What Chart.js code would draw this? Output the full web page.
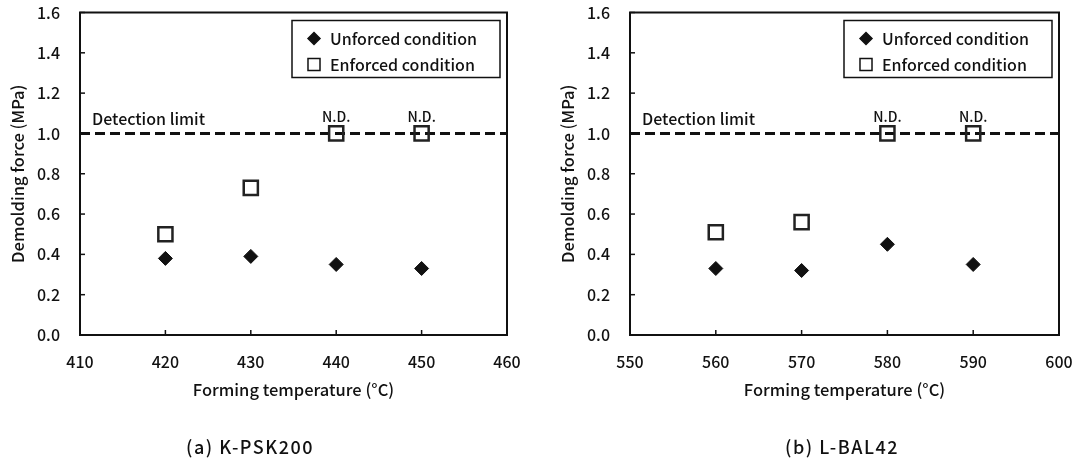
<!DOCTYPE html>
<html>
<head>
<meta charset="utf-8">
<script src="https://cdn.jsdelivr.net/npm/chart.js@4"></script>
<style>
  body { margin: 0; background: #fff; }
  #wrap { position: relative; width: 1078px; height: 465px; }
  #chartA { position: absolute; left: 0; top: 0; }
  #chartB { position: absolute; left: 550px; top: 0; }
</style>
</head>
<body>
<div id="wrap">
  <canvas id="chartA" width="540" height="465"></canvas>
  <canvas id="chartB" width="528" height="465"></canvas>
</div>
<script>
// (a) K-PSK200
const tempsA = [420, 430, 440, 450];
const unforcedA = [0.38, 0.39, 0.35, 0.33];
const enforcedA = [0.50, 0.73, 1.0, 1.0];
const notDetectedA = [false, false, true, true];
const xRangeA = [410, 460];

// (b) L-BAL42
const tempsB = [560, 570, 580, 590];
const unforcedB = [0.33, 0.32, 0.45, 0.35];
const enforcedB = [0.51, 0.56, 1.0, 1.0];
const notDetectedB = [false, false, true, true];
const xRangeB = [550, 600];

const yRange = [0, 1.6];
const yStep = 0.2;
const xStep = 10;
const detectionLimit = 1.0;

const legendLabels = ['Unforced condition', 'Enforced condition'];
const FONT = '"Noto Sans CJK JP", "Noto Sans", sans-serif';
const INK = '#111';

Chart.defaults.font.family = FONT;
Chart.defaults.font.weight = '500';
Chart.defaults.color = INK;

// frame, inside ticks, labels, legend box and caption
const decorPlugin = {
    id: 'decor',
    afterDatasetsDraw(chart, args, opts) {
        const ctx = chart.ctx;
        const a = chart.chartArea;
        const xs = chart.scales.x;
        const ys = chart.scales.y;
        ctx.save();

        // inside tick marks
        ctx.strokeStyle = INK;
        ctx.lineWidth = 1.5;
        ys.ticks.forEach((t) => {
            const y = ys.getPixelForValue(t.value);
            ctx.beginPath();
            ctx.moveTo(a.left, y);
            ctx.lineTo(a.left + 5, y);
            ctx.stroke();
        });
        xs.ticks.forEach((t) => {
            const x = xs.getPixelForValue(t.value);
            ctx.beginPath();
            ctx.moveTo(x, a.bottom);
            ctx.lineTo(x, a.bottom - 5);
            ctx.stroke();
        });

        // plot frame
        ctx.lineWidth = 2;
        ctx.strokeRect(a.left, a.top, a.right - a.left, a.bottom - a.top);

        // detection limit label
        ctx.fillStyle = INK;
        ctx.font = '500 16px ' + FONT;
        ctx.textBaseline = 'middle';
        ctx.textAlign = 'left';
        ctx.fillText('Detection limit', a.left + 12, ys.getPixelForValue(detectionLimit) - 15);

        // N.D. marks
        const meta = chart.getDatasetMeta(1);
        ctx.font = '500 14px ' + FONT;
        ctx.textAlign = 'center';
        opts.nd.forEach((flag, i) => {
            if (!flag) return;
            const p = meta.data[i];
            ctx.fillText('N.D.', p.x, p.y - 17);
        });

        // legend box
        const bw = 208, bh = 57;
        const bx = a.right - 7 - bw;
        const by = a.top + 8;
        ctx.fillStyle = '#fff';
        ctx.fillRect(bx, by, bw, bh);
        ctx.lineWidth = 1.5;
        ctx.strokeStyle = INK;
        ctx.strokeRect(bx, by, bw, bh);
        const rows = [by + 18, by + 44];
        ctx.fillStyle = INK;
        Chart.helpers.drawPoint(ctx, {pointStyle: 'rectRot', radius: 6, borderWidth: 1}, bx + 22, rows[0]);
        ctx.fillStyle = '#fff';
        ctx.lineWidth = 1.5;
        Chart.helpers.drawPoint(ctx, {pointStyle: 'rect', radius: 8.5, borderWidth: 1.5}, bx + 22, rows[1]);
        ctx.fillStyle = INK;
        ctx.font = '500 16px ' + FONT;
        ctx.textAlign = 'left';
        ctx.fillText(legendLabels[0], bx + 38, rows[0]);
        ctx.fillText(legendLabels[1], bx + 38, rows[1]);

        // caption
        ctx.font = '500 18px ' + FONT;
        ctx.letterSpacing = '1.5px';
        ctx.textAlign = 'center';
        ctx.fillText(opts.caption, opts.captionX, 447);
        ctx.restore();
    }
};

const makeChart = (el, temps, unforced, enforced, nd, xRange, caption, captionX, padRight) => {
    return new Chart(document.getElementById(el), {
        type: 'scatter',
        data: {
            datasets: [
                {
                    label: legendLabels[0],
                    data: temps.map((t, i) => ({x: t, y: unforced[i]})),
                    pointStyle: 'rectRot',
                    pointRadius: 7,
                    backgroundColor: INK,
                    borderColor: INK,
                    borderWidth: 1,
                },
                {
                    label: legendLabels[1],
                    data: temps.map((t, i) => ({x: t, y: enforced[i]})),
                    pointStyle: 'rect',
                    pointRadius: 10,
                    backgroundColor: 'rgba(0,0,0,0)',
                    borderColor: '#222',
                    borderWidth: 2.5,
                },
                {
                    type: 'line',
                    label: 'Detection limit',
                    data: [{x: xRange[0], y: detectionLimit}, {x: xRange[1], y: detectionLimit}],
                    borderColor: INK,
                    borderWidth: 3,
                    borderDash: [10, 5],
                    pointRadius: 0,
                    fill: false,
                },
            ],
        },
        options: {
            responsive: false,
            animation: false,
            layout: {
                padding: {left: 0, top: 12, right: padRight, bottom: 60},
            },
            plugins: {
                legend: {display: false},
                tooltip: {enabled: false},
                decor: {nd: nd, caption: caption, captionX: captionX},
            },
            scales: {
                x: {
                    type: 'linear',
                    min: xRange[0],
                    max: xRange[1],
                    afterFit: (s) => { s.height = 70; s.paddingLeft = 0; s.paddingRight = 0; },
                    ticks: {stepSize: xStep, padding: 17, font: {size: 16}, color: INK},
                    grid: {display: false, drawTicks: false},
                    border: {display: false},
                    title: {
                        display: true,
                        text: 'Forming temperature (°C)',
                        font: {size: 16.5},
                        color: INK,
                        padding: {top: 0, bottom: 5},
                    },
                },
                y: {
                    min: yRange[0],
                    max: yRange[1],
                    afterFit: (s) => { s.width = 80; s.paddingTop = 0; s.paddingBottom = 0; },
                    ticks: {
                        stepSize: yStep,
                        padding: 20,
                        font: {size: 16},
                        color: INK,
                        callback: (v) => v.toFixed(1),
                    },
                    grid: {display: false, drawTicks: false},
                    border: {display: false},
                    title: {
                        display: true,
                        text: 'Demolding force (MPa)',
                        font: {size: 16.5},
                        color: INK,
                        padding: {top: 8, bottom: 0},
                    },
                },
            },
        },
        plugins: [decorPlugin],
    });
};

makeChart('chartA', tempsA, unforcedA, enforcedA, notDetectedA, xRangeA, '(a) K-PSK200', 250, 33);
makeChart('chartB', tempsB, unforcedB, enforcedB, notDetectedB, xRangeB, '(b) L-BAL42', 292, 19);
</script>
</body>
</html>
